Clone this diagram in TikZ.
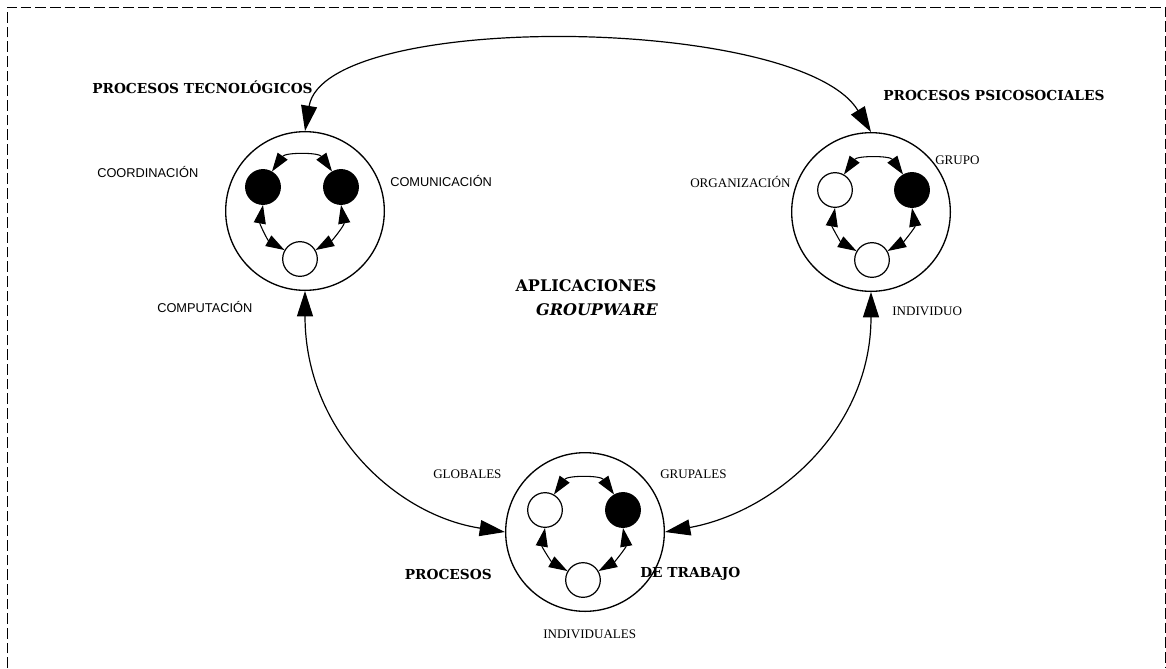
\documentclass[tikz,border=0pt]{standalone}
\usepackage{fontspec}
\setmainfont{Liberation Serif}
\newfontfamily\slab{DejaVu Serif}
\newfontfamily\sanslab{Liberation Sans}
\usetikzlibrary{arrows.meta}
\begin{document}
\begin{tikzpicture}[x=0.75pt,y=-0.75pt,
  big/.style={circle,draw,line width=1pt,minimum size=119pt,inner sep=0pt},
  blk/.style={circle,draw,fill=black,line width=0.9pt,minimum size=26pt,inner sep=0pt},
  wht/.style={circle,draw,fill=white,line width=0.9pt,minimum size=26pt,inner sep=0pt},
  conn/.style={line width=0.9pt,{Triangle[length=19pt,width=12pt]}-{Triangle[length=19pt,width=12pt]}},
  inner/.style={line width=0.8pt,{Triangle[length=14pt,width=9pt]}-{Triangle[length=14pt,width=9pt]}},
  title/.style={font=\slab\bfseries\fontsize{10.3}{12}\selectfont,inner sep=0pt,anchor=west},
  lab/.style={font=\fontsize{9.8}{11}\selectfont,inner sep=0pt,anchor=west},
  slab/.style={font=\sanslab\fontsize{9.6}{11}\selectfont,inner sep=0pt,anchor=west}]
\useasboundingbox (0,0) rectangle (1166,668);
\draw[dashed,dash pattern=on 8pt off 3pt,line width=0.6pt] (7,668) -- (7,7) -- (1165,7) -- (1165,668);

% big circles
\node[big] (L) at (305,211) {};
\node[big] (R) at (871,212) {};
\node[big] (B) at (585,532) {};

% inner circles
\node[blk] (L1) at (263,187) {};
\node[blk] (L2) at (341,187) {};
\node[wht] (L3) at (300,259) {};
\node[wht] (R1) at (835,190) {};
\node[blk] (R2) at (912,190) {};
\node[wht] (R3) at (872,260) {};
\node[wht] (B1) at (545,510) {};
\node[blk] (B2) at (623,510) {};
\node[wht] (B3) at (583,580) {};

% inner arrows
\foreach \a/\b/\c in {L1/L2/L3,R1/R2/R3,B1/B2/B3}{
  \draw[inner] (\a.60) to[out=55,in=125] (\b.120);
  \draw[inner] (\a.south) to[out=-100,in=150] (\c.150);
  \draw[inner] (\b.south) to[out=-80,in=30] (\c.30);
}

% big connectors
\draw[conn] (L.north) .. controls (325,10) and (800,15) .. (R.north);
\draw[conn] (L.south) .. controls (305,430) and (395,515) .. (B.west);
\draw[conn] (R.south) .. controls (871,430) and (775,512) .. (B.east);

% labels
\node[title] (t1) at (92,87) {PROCESOS TECNOLÓGICOS};
\node[title] (t2) at (883,95) {PROCESOS PSICOSOCIALES};
\node[title,anchor=east] (t3) at (492,574) {PROCESOS};
\node[title] (t4) at (640,574) {DE TRABAJO};
\node[font=\slab\bfseries\fontsize{12}{14}\selectfont] (a1) at (586,286) {APLICACIONES};
\node[font=\slab\bfseries\itshape\fontsize{12}{14}\selectfont] (a2) at (597,310) {GROUPWARE};

\node[slab] (c1) at (97,172) {COORDINACIÓN};
\node[slab] (c2) at (390,181) {COMUNICACIÓN};
\node[slab] (c3) at (157,307) {COMPUTACIÓN};
\node[lab] (p1) at (690,182) {ORGANIZACIÓN};
\node[lab] (p2) at (935,160) {GRUPO};
\node[lab] (p3) at (892,311) {INDIVIDUO};
\node[lab] (g1) at (433,474) {GLOBALES};
\node[lab] (g2) at (660,474) {GRUPALES};
\node[lab] (g3) at (543,634) {INDIVIDUALES};
\end{tikzpicture}
\end{document}
